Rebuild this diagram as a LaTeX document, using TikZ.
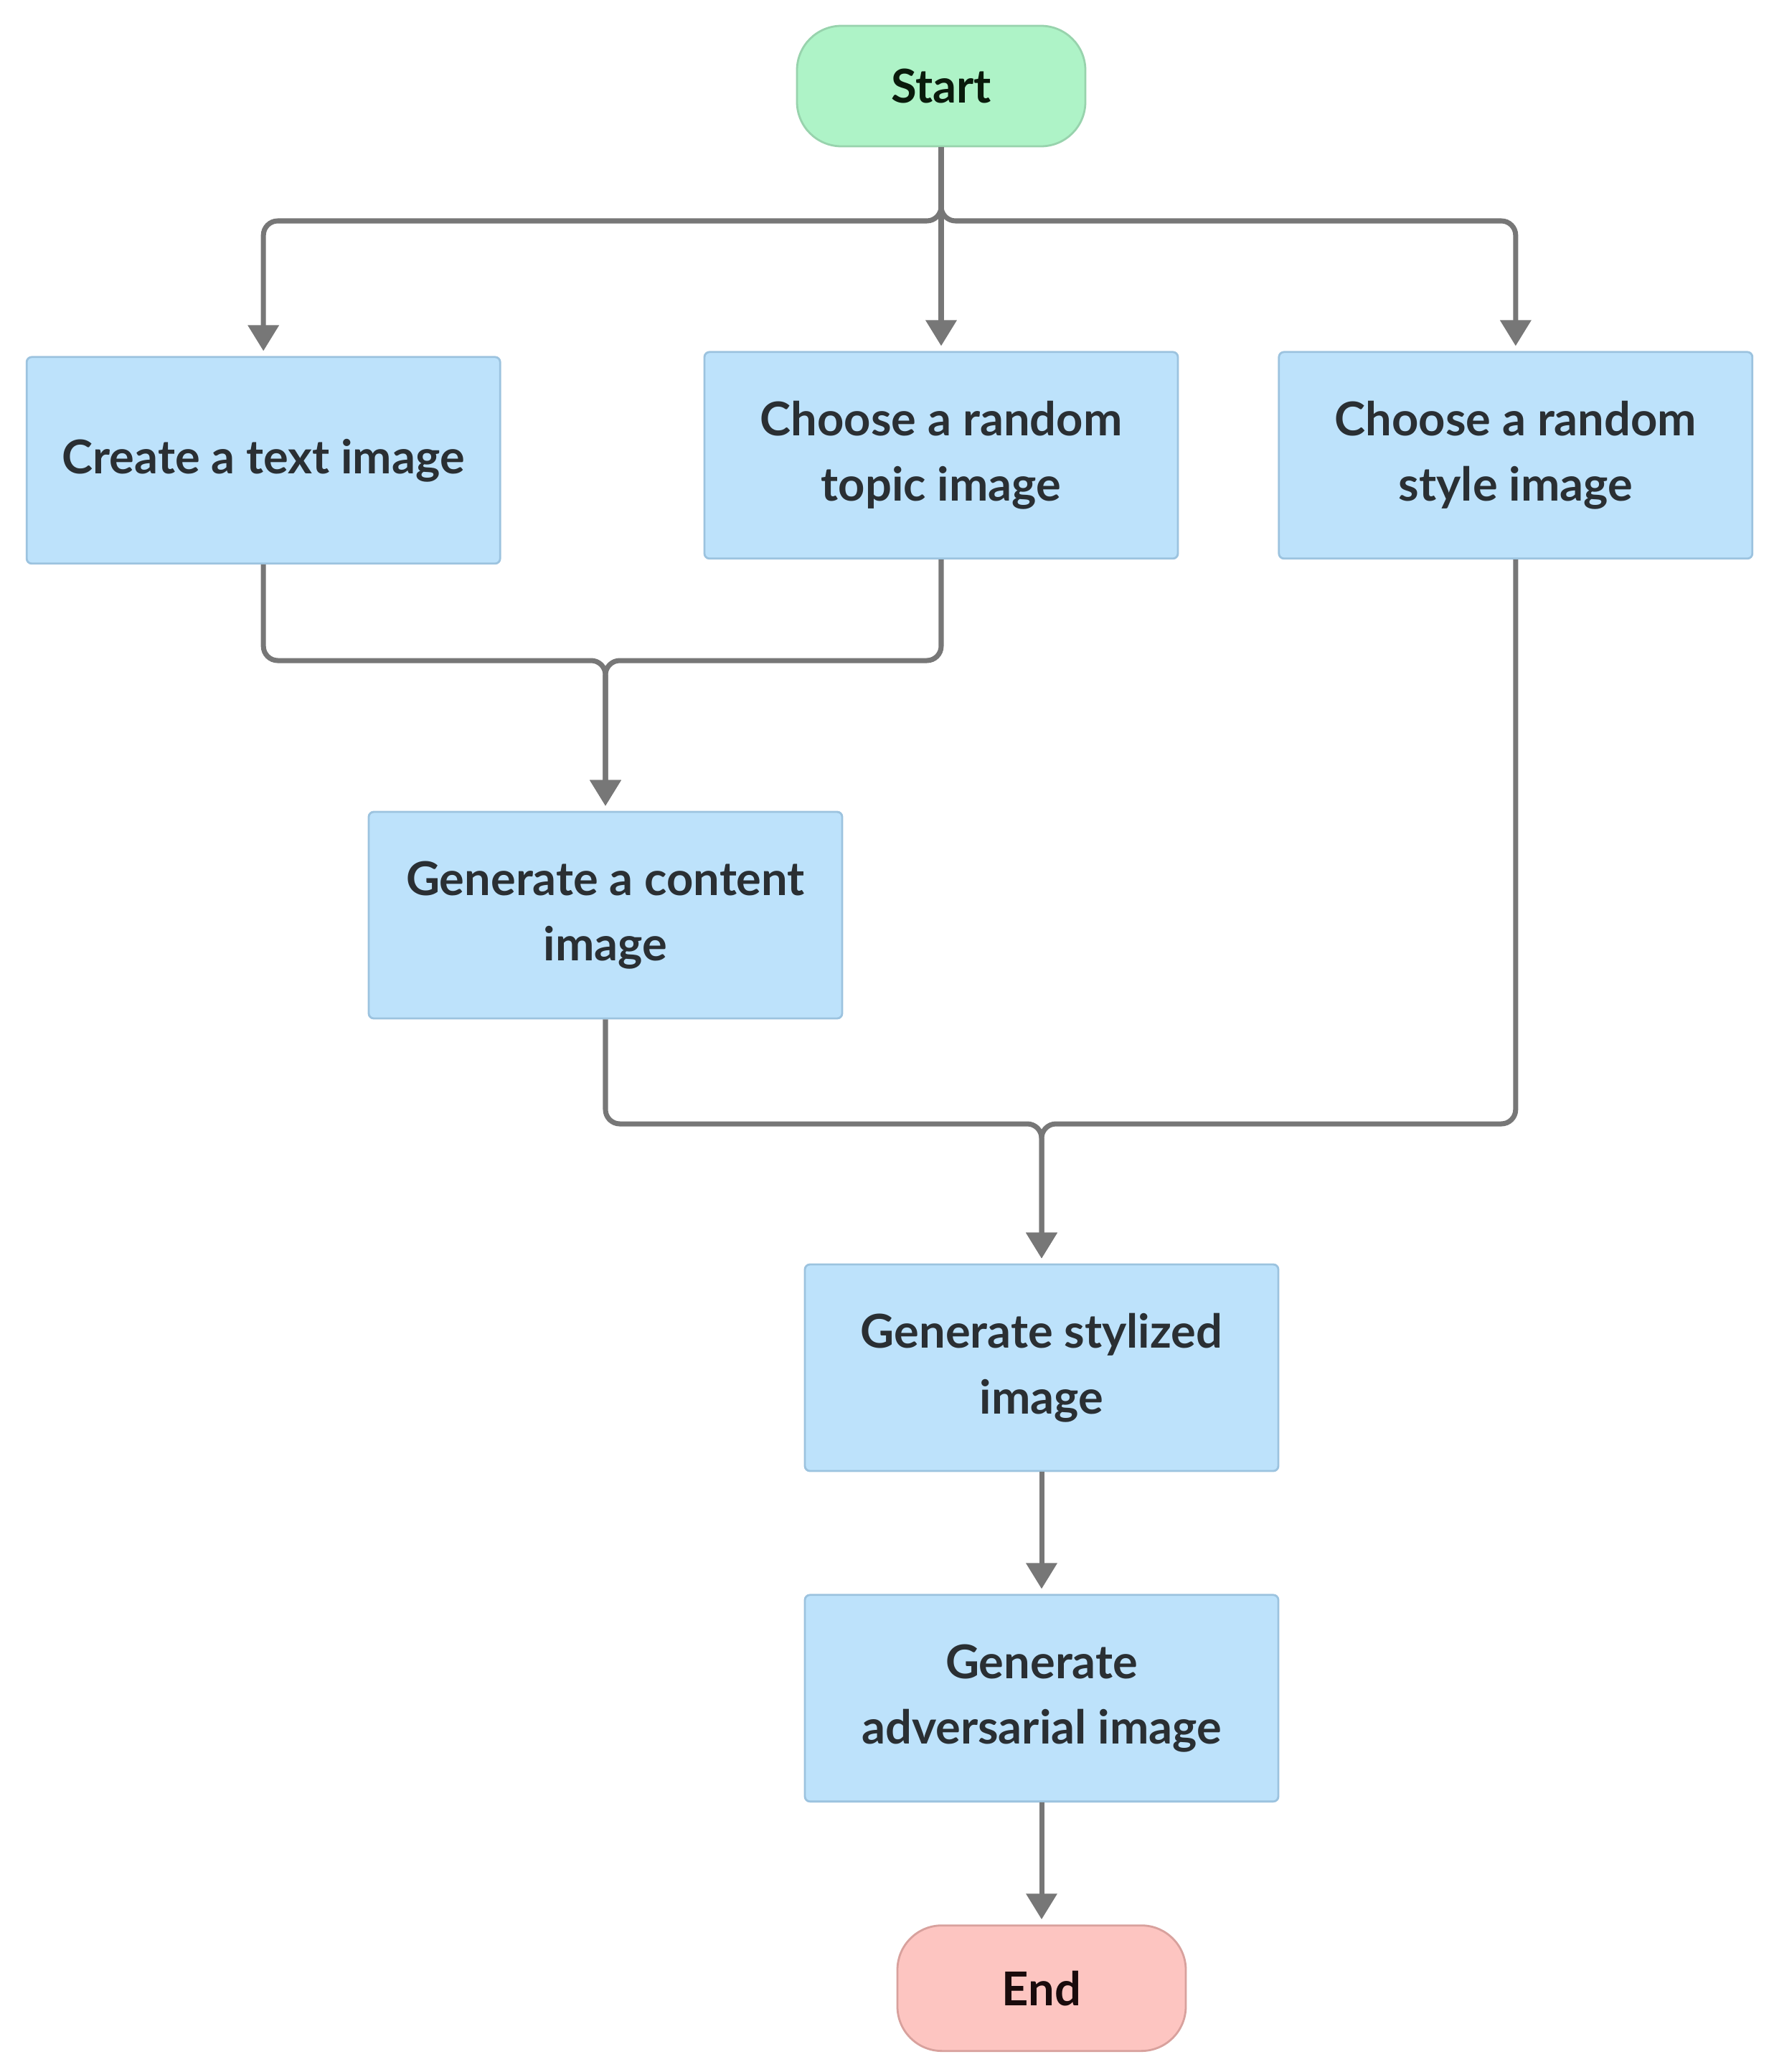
\documentclass[tikz,border=0pt]{standalone}
\usepackage{fontspec}
\setmainfont{Lato}
\usepackage{xcolor}
\usetikzlibrary{arrows.meta, positioning, calc}

\definecolor{boxfill}{HTML}{BDE2FB}
\definecolor{boxline}{HTML}{9CC3DF}
\definecolor{startfill}{HTML}{AEF3C7}
\definecolor{startline}{HTML}{98D3AD}
\definecolor{endfill}{HTML}{FDC5C1}
\definecolor{endline}{HTML}{D8A19D}
\definecolor{flowgray}{HTML}{777777}
\definecolor{textdark}{HTML}{2A2F33}

\begin{document}
\begin{tikzpicture}[
    >={Triangle[width=0.42cm, length=0.36cm]},
    font=\fontsize{18.5}{26}\selectfont\bfseries,
    stepbox/.style={rectangle, rounded corners=2pt, draw=boxline, fill=boxfill, line width=0.8pt, text=textdark, text centered, minimum width=6.6cm, minimum height=2.88cm, align=center},
    startnode/.style={rectangle, rounded corners=0.62cm, draw=startline, fill=startfill, line width=0.8pt, text=textdark!80!green!30!black, minimum width=4.02cm, minimum height=1.68cm},
    endnode/.style={rectangle, rounded corners=0.62cm, draw=endline, fill=endfill, line width=0.8pt, text=textdark!80!red!30!black, minimum width=4.02cm, minimum height=1.75cm},
    flow/.style={->, draw=flowgray, line width=2pt, rounded corners=0.2cm, shorten >=0.07cm}
  ]
  \useasboundingbox (0,0) rectangle (24.66,-28.89);

  % Start and the three first steps
  \node[startnode] (start) at (13.12,-1.20) {Start};
  \node[stepbox, below=2.84cm of start] (topic) {Choose a random\\topic image};
  \node[stepbox, left=2.82cm of topic, yshift=-0.07cm] (text) {Create a text image};
  \node[stepbox, right=1.38cm of topic] (style) {Choose a random\\style image};

  \coordinate (split) at (0,-3.08);
  \draw[flow] (start.south) |- (text.north |- split) -- (text.north);
  \draw[flow] (start.south) -- (topic.north);
  \draw[flow] (start.south) |- (style.north |- split) -- (style.north);

  % Content image
  \node[stepbox] (content) at (8.44,-12.76) {Generate a content\\image};

  \coordinate (merge1) at (0,-9.21);
  \draw[flow] (text.south) |- (content.north |- merge1) -- (content.north);
  \draw[flow] (topic.south) |- (content.north |- merge1) -- (content.north);

  % Stylized and adversarial images
  \node[stepbox] (stylized) at (14.52,-19.07) {Generate stylized\\image};
  \node[stepbox, below=1.70cm of stylized] (adversarial) {Generate\\adversarial image};
  \node[endnode, below=1.70cm of adversarial] (end) {End};

  \coordinate (merge2) at (0,-15.67);
  \draw[flow] (content.south) |- (stylized.north |- merge2) -- (stylized.north);
  \draw[flow] (style.south) |- (stylized.north |- merge2) -- (stylized.north);

  \draw[flow] (stylized) -- (adversarial);
  \draw[flow] (adversarial) -- (end);

\end{tikzpicture}
\end{document}
